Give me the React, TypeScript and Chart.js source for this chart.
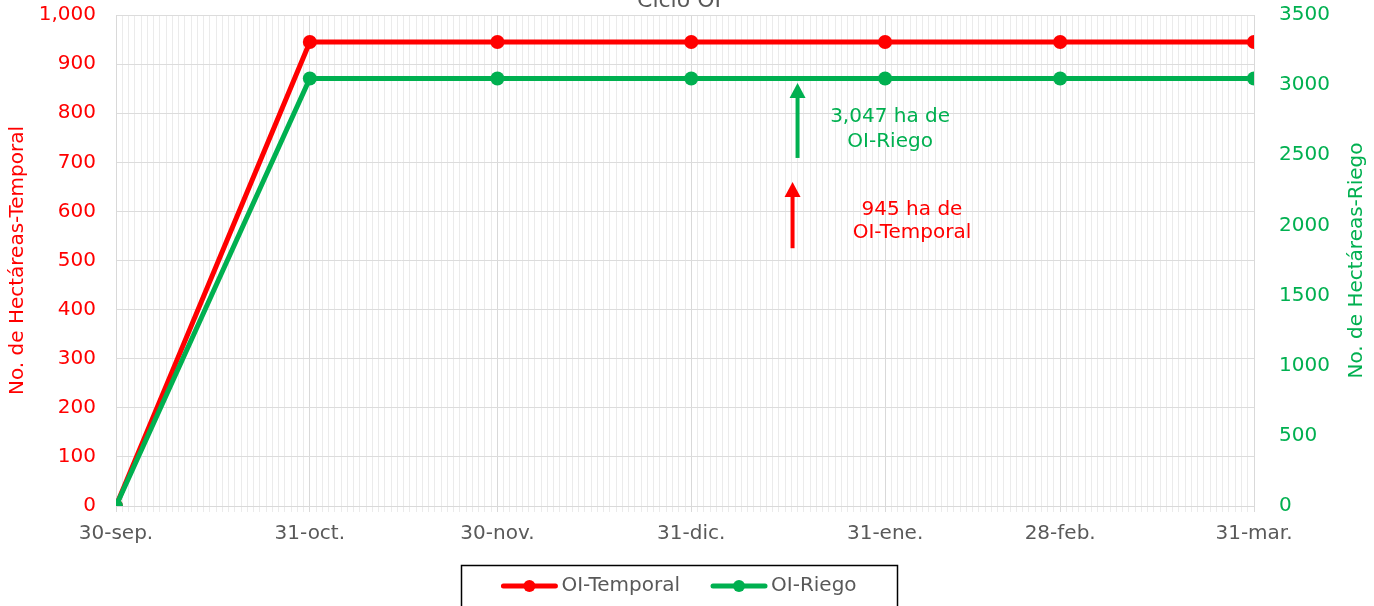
import React, { useEffect, useRef } from 'react';
import { Chart, registerables } from 'chart.js';

Chart.register(...registerables);

// ---- data ----
const dateLabels = ['30-sep.', '31-oct.', '30-nov.', '31-dic.', '31-ene.', '28-feb.', '31-mar.'];
const dateValues = ['2022-09-30', '2022-10-31', '2022-11-30', '2022-12-31', '2023-01-31', '2023-02-28', '2023-03-31'];
const temporalValues = [0, 945, 945, 945, 945, 945, 945];
const riegoValues = [0, 3047, 3047, 3047, 3047, 3047, 3047];
const seriesNames = ['OI-Temporal', 'OI-Riego'];
const chartTitle = 'Ciclo OI';
const leftAxisTitle = 'No. de Hectáreas-Temporal';
const rightAxisTitle = 'No. de Hectáreas-Riego';
const leftTicks = { min: 0, max: 1000, step: 100 };
const rightTicks = { min: 0, max: 3500, step: 500 };
// annotation arrows (day offset, from value, to value, axis)
const arrowDays = [108.2, 109.0];
const arrowFrom = [525, 2481];
const arrowTo = [660, 3015];
const arrowAxes = ['y', 'y1'];
// annotation texts
const noteLines = [['945 ha de', 'OI-Temporal'], ['3,047 ha de', 'OI-Riego']];
const noteDays = [127.3, 123.8];
const noteValues = [[603, 556], [2773, 2595]];
const noteAxes = ['y', 'y1'];

const RED = '#FF0000';
const GREEN = '#00B050';
const GRAY_TEXT = '#595959';
const FONT = 'DejaVu Sans';

const DAY = 86400000;
const startMs = Date.parse(dateValues[0] + 'T00:00:00Z');
const dayOffsets = dateValues.map((d) => Math.round((Date.parse(d + 'T00:00:00Z') - startMs) / DAY));
const seriesColors = [RED, GREEN];

const extrasPlugin = {
  id: 'extras',
  afterDatasetsDraw(chart: any) {
    const ctx = chart.ctx;
    const xs = chart.scales.x;
    ctx.save();
    // arrows
    for (let i = 0; i < arrowDays.length; i++) {
      const ys = chart.scales[arrowAxes[i]];
      const color = seriesColors[i];
      const x = xs.getPixelForValue(arrowDays[i]);
      const y0 = ys.getPixelForValue(arrowFrom[i]);
      const y1 = ys.getPixelForValue(arrowTo[i]);
      const head = 15;
      ctx.strokeStyle = color;
      ctx.fillStyle = color;
      ctx.lineWidth = 4;
      ctx.beginPath();
      ctx.moveTo(x, y0);
      ctx.lineTo(x, y1 + head - 1);
      ctx.stroke();
      ctx.beginPath();
      ctx.moveTo(x, y1);
      ctx.lineTo(x - 8, y1 + head);
      ctx.lineTo(x + 8, y1 + head);
      ctx.closePath();
      ctx.fill();
    }
    // notes
    ctx.font = `20px "${FONT}"`;
    ctx.textAlign = 'center';
    ctx.textBaseline = 'middle';
    for (let i = 0; i < noteLines.length; i++) {
      const ys = chart.scales[noteAxes[i]];
      ctx.fillStyle = seriesColors[i];
      const x = xs.getPixelForValue(noteDays[i]);
      noteLines[i].forEach((line, j) => {
        ctx.fillText(line, x, ys.getPixelForValue(noteValues[i][j]));
      });
    }
    ctx.restore();
  },
  afterDraw(chart: any) {
    const ctx = chart.ctx;
    const area = chart.chartArea;
    ctx.save();
    // title (partly cut off at the top)
    ctx.font = `22px "${FONT}"`;
    ctx.fillStyle = GRAY_TEXT;
    ctx.textAlign = 'center';
    ctx.textBaseline = 'alphabetic';
    ctx.fillText(chartTitle, 679, 7);
    // right axis title, reading bottom to top
    ctx.save();
    ctx.translate(1357, (area.top + area.bottom) / 2);
    ctx.rotate(-Math.PI / 2);
    ctx.font = `20px "${FONT}"`;
    ctx.fillStyle = GREEN;
    ctx.textAlign = 'center';
    ctx.textBaseline = 'middle';
    ctx.fillText(rightAxisTitle, 0, 0);
    ctx.restore();
    // legend box
    const bx = 461, by = 565, bw = 436;
    ctx.strokeStyle = '#000000';
    ctx.lineWidth = 1.5;
    ctx.strokeRect(bx + 0.5, by + 0.5, bw, 60);
    ctx.font = `20px "${FONT}"`;
    const lineW = 56;
    const gapText = 4;
    const gapItems = 31;
    const widths = seriesNames.map((n) => lineW + gapText + ctx.measureText(n).width);
    const total = widths.reduce((a, b) => a + b, 0) + gapItems * (seriesNames.length - 1);
    let x = bx + bw / 2 - total / 2;
    const cy = 586;
    seriesNames.forEach((name, i) => {
      const c = seriesColors[i];
      ctx.strokeStyle = c;
      ctx.fillStyle = c;
      ctx.lineWidth = 5;
      ctx.lineCap = 'round';
      ctx.beginPath();
      ctx.moveTo(x + 2, cy);
      ctx.lineTo(x + lineW - 2, cy);
      ctx.stroke();
      ctx.beginPath();
      ctx.arc(x + lineW / 2, cy, 6, 0, Math.PI * 2);
      ctx.fill();
      ctx.fillStyle = GRAY_TEXT;
      ctx.textAlign = 'left';
      ctx.textBaseline = 'middle';
      ctx.fillText(name, x + lineW + gapText, cy);
      x += widths[i] + gapItems;
    });
    ctx.restore();
  },
};

export default function App() {
  const canvasRef = useRef<HTMLCanvasElement | null>(null);

  useEffect(() => {
    const canvas = canvasRef.current;
    if (!canvas) return;
    Chart.defaults.font.family = FONT;
    const xMax = dayOffsets[dayOffsets.length - 1];
    const chart = new Chart(canvas, {
      type: 'line',
      data: {
        datasets: [
          {
            label: seriesNames[0],
            data: dayOffsets.map((d, i) => ({ x: d, y: temporalValues[i] })),
            borderColor: RED,
            backgroundColor: RED,
            borderWidth: 5,
            pointRadius: 7,
            pointHoverRadius: 7,
            pointBackgroundColor: RED,
            pointBorderWidth: 0,
            yAxisID: 'y',
            order: 1,
          },
          {
            label: seriesNames[1],
            data: dayOffsets.map((d, i) => ({ x: d, y: riegoValues[i] })),
            borderColor: GREEN,
            backgroundColor: GREEN,
            borderWidth: 5,
            pointRadius: 7,
            pointHoverRadius: 7,
            pointBackgroundColor: GREEN,
            pointBorderWidth: 0,
            yAxisID: 'y1',
            order: 0,
          },
        ],
      },
      options: {
        animation: false,
        responsive: false,
        maintainAspectRatio: false,
        layout: { padding: { top: 15, bottom: 60, left: 0, right: 0 } },
        plugins: {
          legend: { display: false },
          title: { display: false },
          tooltip: { enabled: false },
        },
        scales: {
          x: {
            type: 'linear',
            min: 0,
            max: xMax,
            afterFit: (s: any) => { s.height = 40; },
            ticks: {
              stepSize: 1,
              autoSkip: false,
              maxRotation: 0,
              minRotation: 0,
              padding: 10,
              color: GRAY_TEXT,
              font: { size: 20 },
              callback: (v: any) => {
                const i = dayOffsets.indexOf(Number(v));
                return i >= 0 ? dateLabels[i] : '';
              },
            },
            grid: {
              color: (c: any) => (dayOffsets.includes(c.tick?.value) ? '#d9d9d9' : '#ebebeb'),
              tickLength: 6,
              lineWidth: 1,
            },
            border: { color: '#d9d9d9' },
          },
          y: {
            type: 'linear',
            position: 'left',
            min: leftTicks.min,
            max: leftTicks.max,
            afterFit: (s: any) => { s.width = 116; },
            ticks: {
              stepSize: leftTicks.step,
              color: RED,
              padding: 0,
              font: { size: 20 },
              callback: (v: any) => Number(v).toLocaleString('en-US'),
            },
            grid: { color: '#dcdcdc', drawTicks: true, tickLength: 20, tickColor: 'rgba(0,0,0,0)' },
            border: { color: '#d9d9d9' },
            title: {
              display: true,
              text: leftAxisTitle,
              color: RED,
              font: { size: 20 },
              padding: { top: 6, bottom: 4 },
            },
          },
          y1: {
            type: 'linear',
            position: 'right',
            min: rightTicks.min,
            max: rightTicks.max,
            afterFit: (s: any) => { s.width = 120; },
            ticks: {
              stepSize: rightTicks.step,
              color: GREEN,
              padding: 0,
              font: { size: 20 },
              callback: (v: any) => String(v),
            },
            grid: { drawOnChartArea: false, drawTicks: true, tickLength: 25, tickColor: 'rgba(0,0,0,0)' },
            border: { display: false },
            title: { display: false },
          },
        },
      },
      plugins: [extrasPlugin],
    } as any);
    return () => chart.destroy();
  }, []);

  return (
    <div style={{ position: 'fixed', left: 0, top: 0, width: 1374, height: 606, overflow: 'hidden', background: '#ffffff' }}>
      <canvas ref={canvasRef} width={1374} height={606} style={{ display: 'block' }} />
    </div>
  );
}
